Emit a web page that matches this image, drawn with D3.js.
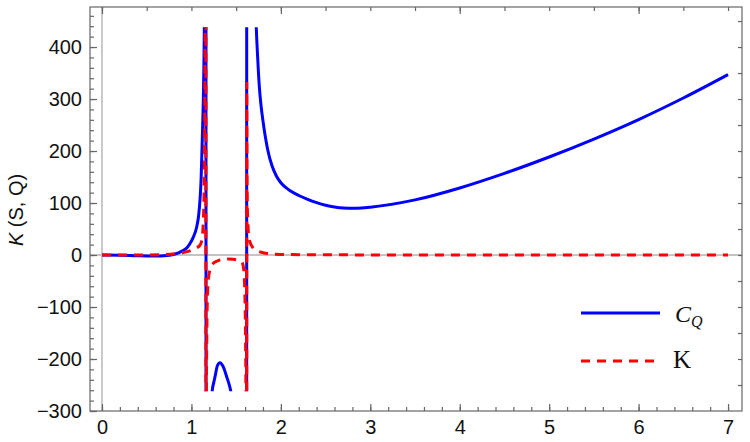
<!DOCTYPE html>
<html>
<head>
<meta charset="utf-8">
<script src="https://cdn.jsdelivr.net/npm/d3@7"></script>
<style>
  html, body { margin: 0; padding: 0; background: #fff; }
  svg { display: block; }
  .tick-label { font-family: "Liberation Sans", Arial, sans-serif; font-size: 20px; fill: #111; }
</style>
</head>
<body>
<svg id="chart" width="750" height="442"></svg>
<script>
// ---- data ----
// C_Q (blue, solid)
const cqX = [0, 0.2, 0.4, 0.6, 0.7, 0.8, 0.9, 0.95, 0.984, 1.02, 1.059, 1.08, 1.096, 1.108, 1.118, 1.126,
    1.133, 1.14, 1.144, 1.15, 1.156, 1.162, 1.164, 1.18, 1.2, 1.215, 1.233, 1.25, 1.264, 1.29, 1.319,
    1.35, 1.372, 1.394, 1.42, 1.439, 1.47, 1.52, 1.57, 1.6, 1.617, 1.619, 1.65, 1.68, 1.7, 1.72, 1.74,
    1.76, 1.78, 1.8, 1.85, 1.9, 1.95, 2.0, 2.05, 2.1, 2.2, 2.3, 2.4, 2.5, 2.6, 2.7, 2.8, 2.9, 3.0,
    3.5, 4.0, 4.5, 5.0, 5.5, 6.0, 6.5, 7.0];
const cqY = [0, -0.3, -1.5, -2, -1.5, 1, 8, 14, 22, 34, 54, 75, 106, 145, 202, 250,
    298, 370, 436, 600, 1000, 10000, -10000, -1500, -600, -350, -261, -245, -234, -213, -207,
    -213, -222, -234, -248, -261, -300, -420, -800, -2000, -10000, 10000, 2190, 870, 610, 462, 382,
    322, 285, 258, 205, 172, 152, 139, 130.5, 124, 114.5, 107, 100.8, 95.8, 92.3, 90.4, 90, 90.5, 92,
    106, 129, 157, 188.5, 223, 260.5, 302, 347];

// K (red, dashed)
const kX = [0, 0.4, 0.7, 0.835, 0.984, 1.05, 1.096, 1.115, 1.126, 1.134, 1.14, 1.148, 1.154, 1.161,
    1.163, 1.167, 1.172, 1.178, 1.193, 1.215, 1.245, 1.3, 1.357, 1.41, 1.468, 1.52, 1.562, 1.578,
    1.588, 1.599, 1.605, 1.61, 1.615, 1.619, 1.622, 1.628, 1.647, 1.692, 1.75, 1.8, 1.9, 2.0, 2.5,
    3.0, 4.0, 7.0];
const kY = [0, 0, 1, 3, 8, 13, 19, 28, 42, 70, 106, 234, 500, 10000,
    -10000, -300, -160, -87, -42, -25, -16, -11, -8, -7.5, -8, -10, -13, -20,
    -35, -87, -160, -300, -10000, 330, 150, 74, 29, 13, 7, 4.5, 2, 1.2, 0.4,
    0.2, 0, 0];

const xMajor = [0, 1, 2, 3, 4, 5, 6, 7];
const yMajor = [-300, -200, -100, 0, 100, 200, 300, 400];
const legendLabels = ["C", "K"];

// ---- layout ----
const svg = d3.select("#chart");
const frame = { left: 90, right: 742, top: 7, bottom: 411 };

const x = d3.scaleLinear().domain([-0.134, 7.156]).range([frame.left, frame.right]);
const y = d3.scaleLinear().domain([-300, 477]).range([frame.bottom, frame.top]);
const clipLo = -262, clipHi = 438;

svg.append("defs").append("clipPath").attr("id", "plotclip")
    .append("rect")
    .attr("x", x(0) - 2)
    .attr("y", y(clipHi))
    .attr("width", x(7) - x(0) + 4)
    .attr("height", y(clipLo) - y(clipHi));

// axes through origin (light gray)
svg.append("line")
    .attr("x1", frame.left).attr("x2", frame.right)
    .attr("y1", y(0)).attr("y2", y(0))
    .attr("stroke", "#c4c4c4").attr("stroke-width", 1.8);
svg.append("line")
    .attr("x1", x(0)).attr("x2", x(0))
    .attr("y1", frame.top).attr("y2", frame.bottom)
    .attr("stroke", "#c4c4c4").attr("stroke-width", 1.8);

// curves
const line = d3.line()
    .x(d => x(d[0]))
    .y(d => y(d[1]))
    .curve(d3.curveMonotoneX);

const plot = svg.append("g").attr("clip-path", "url(#plotclip)");

plot.append("path")
    .datum(d3.zip(cqX, cqY))
    .attr("fill", "none")
    .attr("stroke", "#0000ff")
    .attr("stroke-width", 3)
    .attr("d", line);

plot.append("path")
    .datum(d3.zip(kX, kY))
    .attr("fill", "none")
    .attr("stroke", "#ff0000")
    .attr("stroke-width", 3)
    .attr("stroke-dasharray", "9,7")
    .attr("d", line);

// frame
const frameColor = "#666";
svg.append("rect")
    .attr("x", frame.left).attr("y", frame.top)
    .attr("width", frame.right - frame.left)
    .attr("height", frame.bottom - frame.top)
    .attr("fill", "none")
    .attr("stroke", frameColor)
    .attr("stroke-width", 1.2);

function styleAxis(g) {
    g.select(".domain").remove();
    g.selectAll(".tick line").attr("stroke", frameColor).attr("stroke-width", 1.2);
}

// bottom: major (labelled) + minor every 0.2
svg.append("g")
    .attr("transform", `translate(0,${frame.bottom})`)
    .call(d3.axisBottom(x).tickValues(d3.range(0, 7.01, 0.2)).tickSize(-4).tickFormat(""))
    .call(styleAxis);
svg.append("g")
    .attr("transform", `translate(0,${frame.bottom})`)
    .call(d3.axisBottom(x).tickValues(xMajor).tickSize(-7).tickPadding(9).tickFormat(d3.format("d")))
    .call(styleAxis)
    .selectAll("text").attr("class", "tick-label");

// left: major (labelled) + minor every 20
svg.append("g")
    .attr("transform", `translate(${frame.left},0)`)
    .call(d3.axisLeft(y).tickValues(d3.range(-300, 461, 20)).tickSize(-4).tickFormat(""))
    .call(styleAxis);
svg.append("g")
    .attr("transform", `translate(${frame.left},0)`)
    .call(d3.axisLeft(y).tickValues(yMajor).tickSize(-7).tickPadding(8).tickFormat(d3.format("d")))
    .call(styleAxis)
    .selectAll("text").attr("class", "tick-label");

// top: major every 2, minor every 0.5
svg.append("g")
    .attr("transform", `translate(0,${frame.top})`)
    .call(d3.axisTop(x).tickValues(d3.range(0, 7.01, 0.5)).tickSize(-4).tickFormat(""))
    .call(styleAxis);
svg.append("g")
    .attr("transform", `translate(0,${frame.top})`)
    .call(d3.axisTop(x).tickValues([0, 2, 4, 6]).tickSize(-7).tickFormat(""))
    .call(styleAxis);

// right: ticks every 50
svg.append("g")
    .attr("transform", `translate(${frame.right},0)`)
    .call(d3.axisRight(y).tickValues(d3.range(-250, 451, 50)).tickSize(-4).tickFormat(""))
    .call(styleAxis);

// y axis title
const yTitle = svg.append("text")
    .attr("transform", `translate(23,${(frame.top + frame.bottom) / 2 + 1}) rotate(-90)`)
    .attr("text-anchor", "middle")
    .style("font-family", "'Liberation Sans', Arial, sans-serif")
    .style("font-size", "20px")
    .style("fill", "#111");
yTitle.append("tspan").style("font-style", "italic").text("K");
yTitle.append("tspan").text(" (S, Q)");

// legend
const legend = svg.append("g").attr("transform", "translate(581,313)");
legend.append("line")
    .attr("x1", 0).attr("x2", 79).attr("y1", 0).attr("y2", 0)
    .attr("stroke", "#0000ff").attr("stroke-width", 3);
legend.append("line")
    .attr("x1", 0).attr("x2", 77).attr("y1", 48).attr("y2", 48)
    .attr("stroke", "#ff0000").attr("stroke-width", 3)
    .attr("stroke-dasharray", "9,7");

const cq = legend.append("text")
    .attr("x", 94).attr("y", 9)
    .style("font-family", "'Liberation Serif', 'Times New Roman', serif")
    .style("font-size", "24px")
    .style("font-style", "italic")
    .style("fill", "#111");
cq.append("tspan").text(legendLabels[0]);
cq.append("tspan").attr("dy", 5).style("font-size", "16px").text("Q");

legend.append("text")
    .attr("x", 92).attr("y", 55)
    .style("font-family", "'Liberation Serif', 'Times New Roman', serif")
    .style("font-size", "25px")
    .style("fill", "#111")
    .text(legendLabels[1]);
</script>
</body>
</html>
